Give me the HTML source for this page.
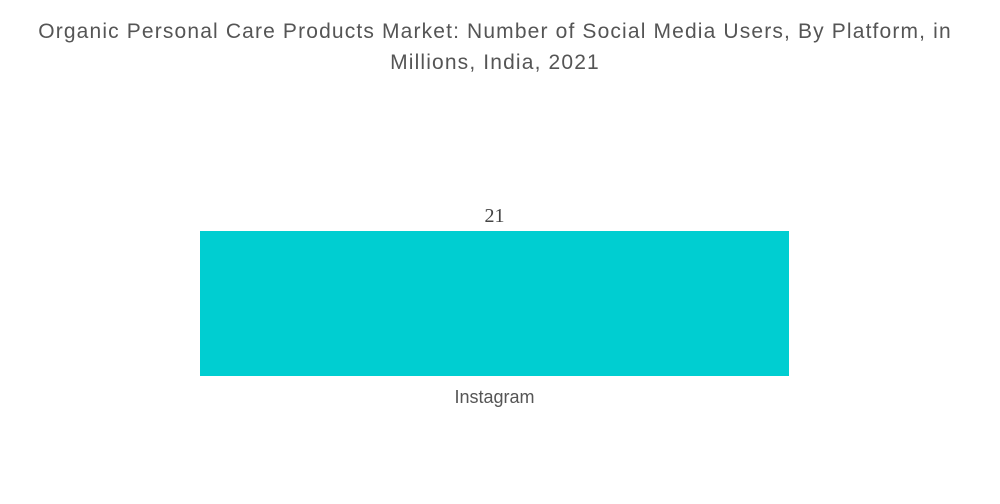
<!DOCTYPE html>
<html><head><meta charset="utf-8"><style>
body{margin:0;background:#fff;font-family:"Liberation Sans",sans-serif;}
#wrap{position:relative;width:1000px;height:504px;overflow:hidden;}
#title{position:absolute;left:0;top:16px;width:990px;text-align:center;color:#555;font-size:21px;line-height:31px;letter-spacing:1.15px;}
</style></head><body>
<div id="wrap">
<div id="title">Organic Personal Care Products Market: Number of Social Media Users, By Platform, in<br>Millions, India, 2021</div>
<svg id="chart" width="1000" height="504" style="position:absolute;left:0;top:0"></svg>
</div>
<script>
const categories = ["Instagram"];
const values = [21];
const svg = document.getElementById('chart');
const NS = 'http://www.w3.org/2000/svg';
const baseY = 376, plotH = 145, maxV = 21;
const x0 = 200, bandW = 589;
function yScale(v){return baseY - v / maxV * plotH;}
function xScale(i){return x0 + i * bandW;}
categories.forEach((c,i)=>{
  const r = document.createElementNS(NS,'rect');
  r.setAttribute('x', xScale(i)); r.setAttribute('width', bandW);
  r.setAttribute('y', yScale(values[i])); r.setAttribute('height', baseY - yScale(values[i]));
  r.setAttribute('fill', '#00CED1');
  
  
  svg.appendChild(r);
  const t = document.createElementNS(NS,'text');
  t.setAttribute('x', xScale(i) + bandW/2); t.setAttribute('y', yScale(values[i]) - 9);
  t.setAttribute('text-anchor','middle'); t.setAttribute('font-size','20'); t.setAttribute('fill','#444');
  t.setAttribute('font-family','Liberation Serif, serif');
  t.textContent = values[i];
  
  
  svg.appendChild(t);
  const l = document.createElementNS(NS,'text');
  l.setAttribute('x', xScale(i) + bandW/2); l.setAttribute('y', baseY + 27);
  l.setAttribute('text-anchor','middle'); l.setAttribute('font-size','18'); l.setAttribute('fill','#555');
  l.setAttribute('font-family','Liberation Sans, sans-serif');
  l.textContent = c;
  
  
  svg.appendChild(l);
});
</script>
</body></html>
